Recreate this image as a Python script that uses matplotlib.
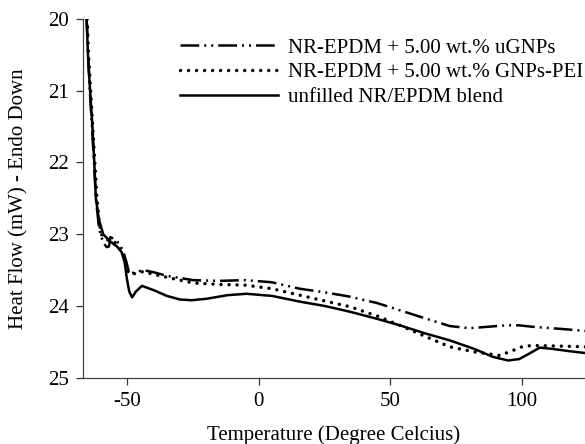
import matplotlib
matplotlib.use("Agg")
import matplotlib.pyplot as plt

plt.rcParams['font.family'] = ['Liberation Serif', 'DejaVu Serif']
plt.rcParams['axes.unicode_minus'] = False

# NR-EPDM + 5.00 wt.% uGNPs
t_ug = [-65.5, -65.0, -64.3, -63.5, -62.7, -62.0, -61.0, -60.3, -59.6, -58.9, -57.9, -57.0,
        -56.5, -55.5, -53.0, -51.5, -50.3, -49.3, -47.0, -44.0, -40.0, -35.0, -25.0, -15.0,
        -5.0, 5.0, 15.6, 25.0, 34.6, 45.0, 53.6, 63.0, 72.6, 80.0, 87.0, 94.0, 99.0, 104.0,
        115.0, 125.0]
h_ug = [20.0, 20.5, 21.0, 21.5, 22.0, 22.5, 22.85, 23.0, 23.07, 23.13, 23.18, 23.17,
        23.04, 23.06, 23.13, 23.25, 23.4, 23.55, 23.53, 23.5, 23.53, 23.58, 23.64, 23.65,
        23.64, 23.67, 23.76, 23.81, 23.87, 23.96, 24.06, 24.17, 24.28, 24.31, 24.29, 24.27,
        24.27, 24.29, 24.32, 24.35]

# NR-EPDM + 5.00 wt.% GNPs-PEI
t_pei = [-65.3, -64.8, -64.0, -63.2, -62.4, -61.6, -60.8, -60.0, -57.5, -55.0, -53.0, -51.5,
         -50.5, -49.5, -47.0, -44.0, -40.0, -35.0, -25.0, -15.0, -5.0, 5.0, 15.6, 25.0, 34.6,
         45.0, 53.6, 63.0, 72.6, 82.0, 91.6, 96.6, 100.0, 104.0, 115.0, 125.0]
h_pei = [20.0, 20.5, 21.0, 21.5, 22.0, 22.5, 22.8, 23.0, 23.08, 23.1, 23.2, 23.3,
         23.45, 23.55, 23.55, 23.52, 23.56, 23.6, 23.68, 23.7, 23.71, 23.76, 23.85, 23.93, 24.01,
         24.14, 24.27, 24.42, 24.57, 24.64, 24.69, 24.62, 24.57, 24.55, 24.56, 24.57]

# unfilled NR/EPDM blend
t_un = [-65.5, -65.0, -64.2, -63.3, -62.6, -62.0, -60.8, -59.2, -56.6, -54.0, -52.2, -51.0,
        -50.3, -49.3, -48.2, -46.8, -44.5, -40.0, -35.0, -30.0, -25.6, -20.0, -12.0, -4.7,
        5.0, 15.6, 25.0, 34.6, 45.0, 53.6, 63.0, 72.6, 82.0, 89.0, 94.8, 99.0, 103.0, 106.8,
        112.0, 118.0, 125.0]
h_un = [20.0, 20.5, 21.0, 21.5, 22.0, 22.5, 22.8, 23.0, 23.1, 23.17, 23.25, 23.4,
        23.6, 23.8, 23.88, 23.8, 23.72, 23.78, 23.86, 23.91, 23.92, 23.9, 23.85, 23.83,
        23.86, 23.94, 24.0, 24.08, 24.18, 24.27, 24.38, 24.48, 24.6, 24.71, 24.76, 24.74, 24.66, 24.58,
        24.6, 24.63, 24.66]

labels = ['NR-EPDM + 5.00 wt.% uGNPs', 'NR-EPDM + 5.00 wt.% GNPs-PEI', 'unfilled NR/EPDM blend']
xticks = [-50, 0, 50, 100]
yticks = [20, 21, 22, 23, 24, 25]

fig = plt.figure(figsize=(5.85, 4.44), dpi=100)
ax = fig.add_axes([0.1414, 0.1493, 0.8586, 0.8079])

ax.plot(t_ug, h_ug, color='black', lw=1.8, linestyle=(0, (7.5, 2, 0.8, 2, 0.8, 2)), label=labels[0])
ax.plot(t_pei, h_pei, color='black', lw=2.5, linestyle=(0, (0.01, 2.3)), dash_capstyle='round', label=labels[1])
ax.plot(t_un, h_un, color='black', lw=1.8, label=labels[2])

ax.set_xlim(-67, 124)
ax.set_ylim(25, 20)
ax.set_xticks(xticks)
ax.set_yticks(yticks)
ax.tick_params(direction='out', length=5, width=0.9, labelsize=15, colors='#333333', labelcolor='black')
ax.tick_params(axis='x', pad=5.5)
ax.tick_params(axis='y', pad=5)
for s in ['top', 'right']:
    ax.spines[s].set_visible(False)
for s in ['left', 'bottom']:
    ax.spines[s].set_color('#444444')
    ax.spines[s].set_linewidth(0.9)

ax.set_xlabel('Temperature (Degree Celcius)', fontsize=15, labelpad=10)
ax.set_ylabel('Heat Flow (mW) - Endo Down', fontsize=15, labelpad=14)

ax.legend(loc='upper left', bbox_to_anchor=(180 / 585, 1 - 38 / 444), bbox_transform=fig.transFigure,
          frameon=False, fontsize=15, handlelength=4.7, handletextpad=0.5, labelspacing=0.25,
          borderpad=0, borderaxespad=0)

fig.savefig('out.png', dpi=100)
